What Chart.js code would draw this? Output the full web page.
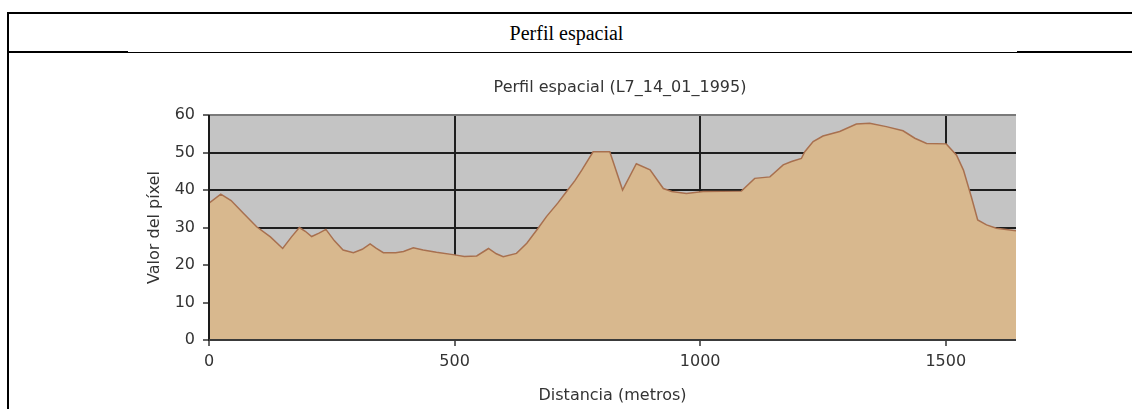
<!DOCTYPE html>
<html>
<head>
<meta charset="utf-8">
<script src="https://cdn.jsdelivr.net/npm/chart.js@4.4.1/dist/chart.umd.min.js"></script>
<style>
  html, body { margin: 0; padding: 0; background: #ffffff; }
  body { width: 1132px; height: 409px; position: relative; overflow: hidden; }
  .ln { position: absolute; background: #000; }
  #hdr { position: absolute; left: 9px; right: 0; top: 15px; height: 36px; line-height: 36px;
         text-align: center; font-family: "Liberation Serif", "Times New Roman", serif; font-size: 20px; color: #000; }
  #hdr span { position: relative; left: -4px; }
  #c { position: absolute; left: 0; top: 0; }
</style>
</head>
<body>
<div class="ln" style="left:7px; top:12px; width:1125px; height:2px;"></div>
<div class="ln" style="left:7px; top:12px; width:2px; height:397px;"></div>
<div class="ln" style="left:7px; top:51px; width:121px; height:2px;"></div>
<div class="ln" style="left:128px; top:52px; width:889px; height:1px;"></div>
<div class="ln" style="left:1017px; top:51px; width:115px; height:2px;"></div>
<div id="hdr"><span>Perfil espacial</span></div>
<canvas id="c" width="1132" height="409"></canvas>
<script>
// ---- data ----
const chartTitle = "Perfil espacial (L7_14_01_1995)";
const xAxisTitle = "Distancia (metros)";
const yAxisTitle = "Valor del píxel";
const distances = [0, 24, 45, 70, 97, 125, 150, 168, 184, 196, 209, 224, 238, 255, 273, 294, 312, 328, 340, 355, 380, 396, 416, 436, 463, 500, 520, 545, 569, 585, 599, 626, 647, 670, 687, 710, 728, 745, 759, 782, 816, 842, 870, 898, 925, 942, 972, 1006, 1084, 1111, 1142, 1169, 1186, 1206, 1213, 1230, 1250, 1284, 1318, 1345, 1379, 1413, 1437, 1461, 1501, 1522, 1536, 1552, 1565, 1583, 1603, 1643];
const pixelValues = [36.5, 38.9, 37.2, 33.8, 30.2, 27.5, 24.4, 27.5, 30, 29, 27.6, 28.5, 29.5, 26.5, 24, 23.3, 24.2, 25.6, 24.5, 23.3, 23.3, 23.6, 24.6, 24, 23.4, 22.7, 22.3, 22.4, 24.4, 23, 22.2, 23.1, 25.8, 29.8, 32.9, 36.5, 39.6, 42.5, 45.3, 50.2, 50.2, 40, 47, 45.4, 40.4, 39.6, 39.1, 39.6, 39.7, 43.1, 43.5, 46.7, 47.6, 48.4, 50.2, 52.9, 54.4, 55.6, 57.6, 57.8, 56.9, 55.8, 53.8, 52.4, 52.3, 49.3, 45.3, 38.2, 32, 30.7, 29.8, 29.1];
const xTickValues = [0, 500, 1000, 1500];
const yTickValues = [0, 10, 20, 30, 40, 50, 60];
const xMin = 0, xMax = 1643;
const yMin = 0, yMax = 60;

const points = distances.map((d, i) => ({ x: d, y: pixelValues[i] }));

const plotBg = {
  id: 'plotBg',
  beforeDraw(chart) {
    const { ctx, chartArea: a } = chart;
    ctx.save();
    ctx.fillStyle = '#c4c4c4';
    ctx.fillRect(a.left, a.top, a.right - a.left, a.bottom - a.top);
    ctx.restore();
  },
  afterLayout(chart) {
    const t = chart.titleBlock;
    if (t) { t.left += 7.5; t.right += 7.5; }
  },
  afterDatasetsDraw(chart) {
    const { ctx, chartArea: a } = chart;
    ctx.save();
    ctx.strokeStyle = '#1a1a1a';
    ctx.lineWidth = 2;
    ctx.beginPath();
    ctx.moveTo(a.left, a.top);
    ctx.lineTo(a.left, a.bottom + 1);
    ctx.stroke();
    ctx.strokeStyle = '#3a3a3a';
    ctx.beginPath();
    ctx.moveTo(a.left, a.bottom);
    ctx.lineTo(a.right, a.bottom);
    ctx.stroke();
    ctx.restore();
  }
};

const font16 = { family: 'DejaVu Sans', size: 16, weight: 'normal' };

new Chart(document.getElementById('c'), {
  type: 'line',
  data: {
    datasets: [{
      data: points,
      fill: 'origin',
      backgroundColor: '#d8b88e',
      borderColor: '#a8704f',
      borderWidth: 1.5,
      pointRadius: 0,
      tension: 0
    }]
  },
  options: {
    responsive: false,
    animation: false,
    events: [],
    layout: { padding: { top: 68, left: 145, right: 116, bottom: 4 } },
    plugins: {
      legend: { display: false },
      tooltip: { enabled: false },
      title: {
        display: true,
        text: chartTitle,
        fullSize: false,
        color: '#333333',
        font: font16,
        padding: { top: 10.4, bottom: 17.4 }
      }
    },
    scales: {
      x: {
        type: 'linear',
        min: xMin, max: xMax,
        afterFit(s) { s.height = 65; },
        afterBuildTicks(s) { s.ticks = xTickValues.map(v => ({ value: v })); },
        ticks: { color: '#333333', font: font16, padding: 6, maxRotation: 0, autoSkip: false,
                 callback: (v) => String(v) },
        grid: {
          color: '#1e1e1e', lineWidth: 2, drawTicks: true, tickLength: 6,
          tickColor: '#333333', tickWidth: 1.5
        },
        border: { display: false },
        title: { display: true, text: xAxisTitle, color: '#333333', font: font16, padding: 0 }
      },
      y: {
        type: 'linear',
        min: yMin, max: yMax,
        afterFit(s) { s.width = 64; },
        afterBuildTicks(s) { s.ticks = yTickValues.map(v => ({ value: v })); },
        ticks: { color: '#333333', font: font16, padding: 8, autoSkip: false,
                 callback: (v) => String(v) },
        grid: {
          color: (c) => (c.tick && c.tick.value === yMax) ? '#7a7a7a' : '#1e1e1e',
          lineWidth: 2, drawTicks: true, tickLength: 6,
          tickColor: '#333333', tickWidth: 1.5
        },
        border: { display: false },
        title: { display: true, text: yAxisTitle, color: '#333333', font: font16, padding: 0 }
      }
    }
  },
  plugins: [plotBg]
});
</script>
</body>
</html>
